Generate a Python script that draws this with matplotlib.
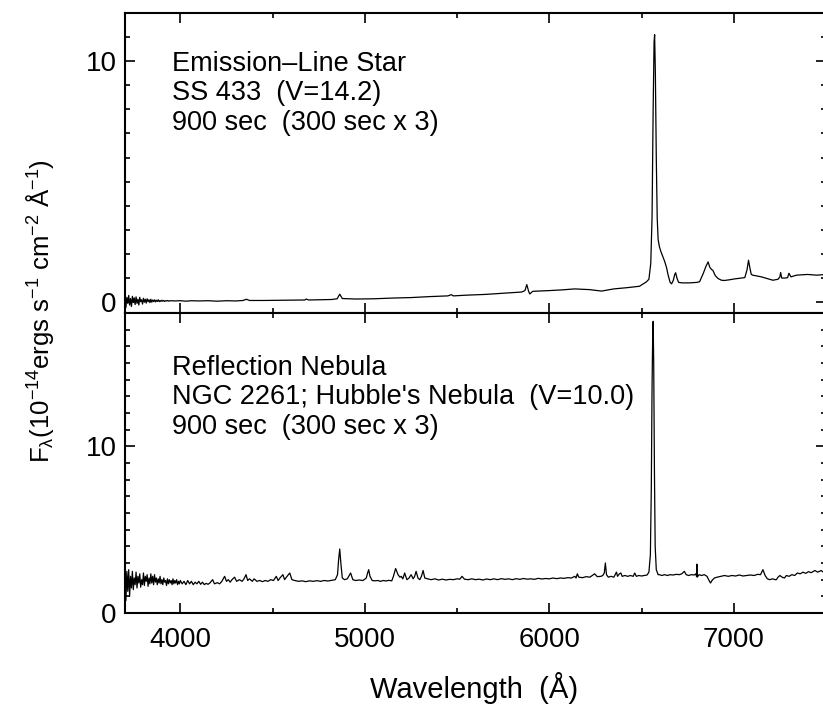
import matplotlib
matplotlib.use("Agg")
import matplotlib.pyplot as plt
from matplotlib.ticker import MultipleLocator

plt.rcParams['font.family'] = ['Liberation Sans', 'DejaVu Sans']
plt.rcParams['mathtext.fontset'] = 'custom'
plt.rcParams['mathtext.rm'] = 'Liberation Sans'
plt.rcParams['mathtext.it'] = 'Liberation Sans:italic'
plt.rcParams['mathtext.default'] = 'regular'

# ---- Data: SS 433 (emission-line star), wavelength in Angstrom, flux in 1e-14 units
ss433_wave = [3700, 3705, 3710, 3715, 3720, 3725, 3730, 3735, 3740, 3745, 3750, 3755,
              3760, 3765, 3770, 3775, 3780, 3785, 3790, 3795, 3800, 3805, 3810, 3815,
              3820, 3825, 3830, 3835, 3840, 3845, 3850, 3855, 3860, 3865, 3870, 3875,
              3880, 3885, 3890, 3895, 3900, 3905, 3910, 3915, 3920, 3925, 3930, 3935,
              3940, 3945, 3950, 3970, 4000, 4030, 4060, 4100, 4150, 4200, 4250, 4300,
              4340, 4358, 4375, 4450, 4550, 4650, 4675, 4683, 4695, 4750, 4820, 4850,
              4864, 4878, 4950, 5050, 5150, 5250, 5350, 5450, 5469, 5480, 5550, 5650,
              5775, 5850, 5868, 5878, 5888, 5894, 5910, 6000, 6070, 6138, 6190, 6219,
              6283, 6350, 6420, 6489, 6526, 6540, 6550, 6557, 6563, 6568, 6571, 6575,
              6580, 6585, 6590, 6597, 6605, 6615, 6625, 6635, 6645, 6655, 6663, 6672,
              6680, 6685, 6692, 6701, 6720, 6760, 6800, 6815, 6835, 6850, 6861, 6870,
              6880, 6886, 6900, 6915, 6933, 6950, 6978, 7000, 7040, 7060, 7072, 7080,
              7088, 7095, 7103, 7150, 7212, 7240, 7250, 7254, 7260, 7280, 7292, 7299,
              7310, 7340, 7400, 7450, 7500]
ss433_flux = [0.05, -0.22, 0.20, -0.05, 0.28, -0.12, 0.15, -0.18, 0.24, 0.00, 0.18, -0.10,
              0.22, -0.05, 0.12, -0.12, 0.20, 0.02, 0.10, -0.08, 0.16, 0.00, 0.12, -0.04,
              0.14, 0.02, 0.10, -0.02, 0.12, 0.00, 0.09, 0.02, 0.10, 0.01, 0.08, 0.03,
              0.10, 0.02, 0.07, 0.03, 0.08, 0.04, 0.07, 0.03, 0.06, 0.05, 0.07, 0.04,
              0.06, 0.05, 0.06, 0.05, 0.06, 0.04, 0.06, 0.05, 0.06, 0.04, 0.06, 0.05,
              0.07, 0.12, 0.07, 0.07, 0.08, 0.09, 0.09, 0.13, 0.09, 0.10, 0.11, 0.14,
              0.33, 0.15, 0.13, 0.14, 0.17, 0.19, 0.23, 0.26, 0.31, 0.26, 0.29, 0.32,
              0.38, 0.42, 0.48, 0.73, 0.45, 0.34, 0.45, 0.48, 0.51, 0.55, 0.53, 0.52,
              0.46, 0.55, 0.60, 0.66, 0.84, 0.95, 1.60, 3.50, 8.00, 10.80, 11.10, 9.50,
              6.00, 3.50, 2.60, 2.30, 2.10, 1.90, 1.70, 1.45, 1.10, 0.82, 0.76, 0.90,
              1.15, 1.22, 1.00, 0.82, 0.80, 0.80, 0.82, 0.85, 1.20, 1.50, 1.67, 1.45,
              1.35, 1.33, 1.10, 0.98, 0.91, 0.90, 0.93, 0.96, 1.00, 1.02, 1.35, 1.74,
              1.40, 1.15, 1.12, 1.05, 0.91, 0.95, 1.05, 1.23, 1.00, 1.00, 1.02, 1.20,
              1.05, 1.12, 1.15, 1.12, 1.15]

# ---- Data: NGC 2261 (reflection nebula)
ngc_wave = [3700, 3705, 3710, 3715, 3720, 3725, 3730, 3735, 3740, 3745, 3750, 3755,
            3760, 3765, 3770, 3775, 3780, 3785, 3790, 3795, 3800, 3805, 3810, 3815,
            3820, 3825, 3830, 3835, 3840, 3845, 3850, 3855, 3860, 3865, 3870, 3875,
            3880, 3885, 3890, 3895, 3900, 3905, 3910, 3915, 3920, 3925, 3930, 3935,
            3940, 3945, 3950, 3955, 3960, 3965, 3970, 3975, 3980, 3985, 3990, 3995,
            4000, 4010, 4020, 4030, 4040, 4050, 4060, 4070, 4080, 4090, 4100, 4110,
            4120, 4130, 4140, 4150, 4160, 4175, 4185, 4200, 4213, 4225, 4240, 4250,
            4260, 4270, 4280, 4294, 4305, 4320, 4335, 4345, 4356, 4365, 4375, 4390,
            4400, 4415, 4430, 4445, 4460, 4475, 4490, 4505, 4520, 4530, 4540, 4556,
            4565, 4575, 4593, 4605, 4620, 4640, 4660, 4680, 4700, 4720, 4740, 4760,
            4780, 4800, 4820, 4840, 4852, 4858, 4864, 4870, 4878, 4890, 4905, 4923,
            4935, 4950, 4970, 4990, 5008, 5015, 5021, 5028, 5040, 5054, 5070, 5085,
            5100, 5115, 5130, 5146, 5155, 5167, 5180, 5190, 5197, 5206, 5216, 5228,
            5240, 5251, 5262, 5270, 5278, 5288, 5298, 5307, 5316, 5325, 5340, 5360,
            5380, 5400, 5420, 5440, 5460, 5480, 5500, 5515, 5527, 5540, 5560, 5580,
            5600, 5620, 5640, 5660, 5680, 5700, 5720, 5740, 5760, 5780, 5800, 5820,
            5840, 5860, 5880, 5900, 5920, 5940, 5960, 5980, 6000, 6020, 6040, 6060,
            6080, 6100, 6120, 6138, 6145, 6152, 6160, 6180, 6200, 6220, 6246, 6260,
            6280, 6290, 6298, 6304, 6310, 6320, 6335, 6350, 6364, 6370, 6380, 6388,
            6395, 6410, 6425, 6440, 6455, 6463, 6472, 6485, 6500, 6515, 6530, 6540,
            6548, 6553, 6557, 6561, 6563, 6566, 6570, 6574, 6580, 6590, 6597, 6610,
            6625, 6640, 6655, 6670, 6690, 6705, 6718, 6732, 6742, 6755, 6770, 6785,
            6795, 6798, 6800, 6802, 6812, 6825, 6840, 6855, 6866, 6874, 6882, 6895,
            6910, 6930, 6950, 6970, 6990, 7010, 7030, 7050, 7070, 7090, 7110, 7130,
            7145, 7158, 7170, 7182, 7195, 7210, 7225, 7231, 7240, 7250, 7262, 7275,
            7285, 7300, 7315, 7330, 7345, 7360, 7375, 7390, 7405, 7420, 7440, 7455,
            7474, 7485, 7495, 7500]
ngc_flux = [1.90, 0.75, 2.50, 1.30, 2.60, 1.00, 2.20, 1.50, 2.50, 1.40, 2.10, 1.70,
            2.45, 1.50, 2.20, 1.80, 2.35, 1.55, 2.00, 1.70, 2.40, 1.65, 2.20, 1.90,
            2.30, 1.60, 2.10, 1.75, 2.35, 1.80, 2.20, 1.70, 2.30, 1.85, 2.10, 1.70,
            2.05, 1.80, 2.20, 1.75, 2.00, 1.70, 2.10, 1.85, 1.95, 1.65, 2.05, 1.75,
            2.00, 1.80, 1.95, 1.70, 2.05, 1.75, 1.95, 1.80, 2.00, 1.70, 1.90, 1.75,
            1.95, 1.75, 1.90, 1.70, 1.95, 1.75, 1.90, 1.70, 1.85, 1.75, 1.90, 1.72,
            1.85, 1.70, 1.78, 1.72, 1.80, 2.00, 1.75, 1.82, 1.75, 1.90, 2.20, 1.90,
            2.00, 1.85, 2.00, 2.15, 1.90, 2.00, 1.90, 2.05, 2.30, 1.95, 2.05, 1.90,
            2.05, 1.90, 1.95, 1.88, 1.95, 1.90, 2.00, 1.95, 2.20, 1.95, 2.10, 2.30,
            2.00, 2.15, 2.40, 2.00, 1.95, 1.90, 1.93, 1.88, 1.93, 1.90, 1.94, 1.90,
            1.95, 1.92, 1.96, 2.00, 2.30, 3.20, 3.84, 3.00, 2.10, 2.00, 2.05, 2.40,
            2.00, 1.95, 1.98, 1.95, 2.10, 2.40, 2.60, 2.20, 1.95, 1.93, 1.95, 1.90,
            1.95, 1.92, 1.96, 1.93, 2.20, 2.67, 2.30, 2.15, 2.20, 2.05, 2.40, 2.00,
            2.10, 2.30, 2.05, 2.20, 2.50, 2.10, 2.00, 2.20, 2.55, 2.10, 2.05, 2.00,
            2.05, 1.98, 2.03, 1.98, 2.02, 2.00, 2.05, 2.03, 2.20, 2.03, 2.00, 2.05,
            2.00, 2.03, 1.98, 2.04, 2.00, 2.05, 2.00, 2.06, 2.02, 2.05, 2.00, 2.06,
            2.02, 2.07, 2.03, 2.05, 2.02, 2.08, 2.04, 2.07, 2.05, 2.10, 2.06, 2.10,
            2.08, 2.12, 2.10, 2.20, 2.10, 2.35, 2.15, 2.12, 2.18, 2.15, 2.35, 2.18,
            2.20, 2.25, 2.40, 3.00, 2.30, 2.15, 2.20, 2.15, 2.45, 2.20, 2.35, 2.40,
            2.20, 2.25, 2.20, 2.25, 2.20, 2.40, 2.20, 2.25, 2.22, 2.25, 2.28, 2.45,
            3.50, 7.50, 13.50, 17.10, 17.50, 15.00, 8.50, 4.00, 2.60, 2.30, 2.30, 2.25,
            2.30, 2.25, 2.30, 2.28, 2.32, 2.30, 2.35, 2.50, 2.30, 2.25, 2.30, 2.28,
            2.35, 2.20, 2.93, 2.15, 2.30, 2.25, 2.30, 2.20, 1.95, 1.80, 1.95, 2.10,
            2.15, 2.20, 2.25, 2.20, 2.25, 2.22, 2.28, 2.22, 2.25, 2.28, 2.25, 2.32,
            2.30, 2.60, 2.25, 2.05, 2.00, 2.05, 2.00, 2.00, 2.15, 2.25, 2.15, 2.10,
            2.25, 2.20, 2.30, 2.25, 2.40, 2.35, 2.45, 2.38, 2.48, 2.42, 2.55, 2.45,
            2.55, 2.45, 2.65, 2.58]

x_major = [4000, 5000, 6000, 7000]
top_text = ["Emission\u2013Line Star", "SS 433  (V=14.2)", "900 sec  (300 sec x 3)"]
bot_text = ["Reflection Nebula", "NGC 2261; Hubble's Nebula  (V=10.0)", "900 sec  (300 sec x 3)"]

W, H = 823, 711
fig = plt.figure(figsize=(W / 100, H / 100), dpi=100)
left = 125 / W
right = 826 / W
ax_top = fig.add_axes([left, 1 - 313 / H, right - left, 300 / H])
ax_bot = fig.add_axes([left, 1 - 613 / H, right - left, 300 / H])

ax_top.plot(ss433_wave, ss433_flux, color='black', lw=0.9)
ax_bot.plot(ngc_wave, ngc_flux, color='black', lw=0.9)

ax_top.set_ylim(-0.45, 12)
ax_bot.set_ylim(0, 18)

for ax in (ax_top, ax_bot):
    ax.set_xlim(3700, 7500)
    ax.set_xticks(x_major)
    ax.xaxis.set_minor_locator(MultipleLocator(500))
    ax.set_yticks([0, 10])
    ax.yaxis.set_minor_locator(MultipleLocator(1))
    ax.tick_params(which='both', direction='in', top=True, right=True,
                   width=1.2, labelsize=20, colors='black')
    ax.tick_params(which='major', length=7.5)
    ax.tick_params(which='minor', length=3.6)
    ax.tick_params(axis='y', pad=6)
    ax.tick_params(axis='x', pad=10)
    for s in ax.spines.values():
        s.set_linewidth(1.5)

ax_top.tick_params(labelbottom=False)

ax_top.text(172 / W, 1 - 51 / H, "\n".join(top_text), transform=fig.transFigure,
            fontsize=19.5, va='top', ha='left', linespacing=1.17)
ax_bot.text(172 / W, 1 - 355 / H, "\n".join(bot_text), transform=fig.transFigure,
            fontsize=19.5, va='top', ha='left', linespacing=1.17)

fig.text(40 / W, 1 - 311 / H,
         r"F$_{\lambda}$(10$^{-14}$ergs s$^{-1}$ cm$^{-2}$ Å$^{-1}$)",
         rotation=90, fontsize=18.5, ha='center', va='center')
fig.text(474 / W, 1 - 688 / H, "Wavelength  (Å)", fontsize=21, ha='center', va='center')

fig.savefig("out.png", dpi=100)
